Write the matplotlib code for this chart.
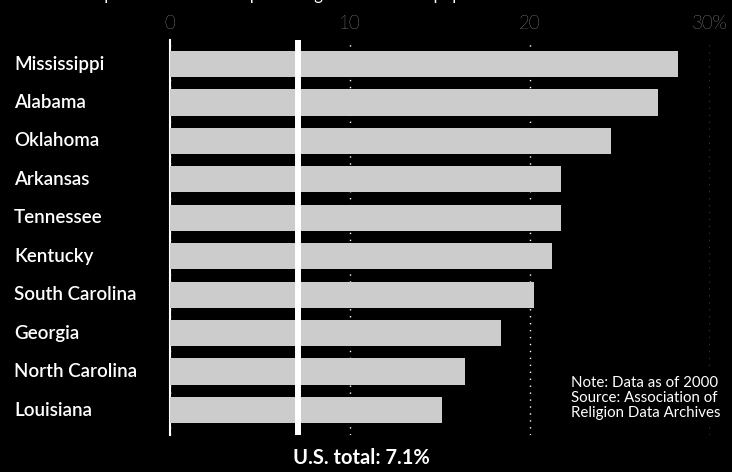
import matplotlib
matplotlib.use("Agg")
import matplotlib.pyplot as plt
from matplotlib.transforms import blended_transform_factory

BG = "#000000"
BAR = "#cccccc"
WHITE = "#ffffff"

states = ["Mississippi", "Alabama", "Oklahoma", "Arkansas", "Tennessee",
          "Kentucky", "South Carolina", "Georgia", "North Carolina", "Louisiana"]
share = [28.2, 27.1, 24.5, 21.7, 21.7, 21.2, 20.2, 18.4, 16.4, 15.1]
us_total = 7.1
xticks = [0, 10, 20, 30]
xtick_labels = ["0", "10", "20", "30%"]

plt.rcParams["font.family"] = ["Lato", "DejaVu Sans"]

fig = plt.figure(figsize=(7.32, 4.72), dpi=100, facecolor=BG)
ax = fig.add_axes([170 / 732, 1 - 435 / 472, 540 / 732, 395 / 472])
ax.set_facecolor(BG)

y = list(range(len(states)))
ax.barh(y, share, height=0.68, color=BAR, zorder=3)
ax.axvline(us_total, color=WHITE, linewidth=4.3, zorder=4)

ax.set_xlim(0, 30)
ax.set_ylim(9.65, -0.625)
ax.set_xticks(xticks)
ax.set_xticklabels(xtick_labels, color=WHITE, fontsize=13.5, fontweight="light")
ax.xaxis.tick_top()
ax.tick_params(axis="x", length=0, pad=5)
ax.set_yticks([])
for s in ["top", "right", "bottom"]:
    ax.spines[s].set_visible(False)
ax.spines["left"].set_color(WHITE)
ax.spines["left"].set_linewidth(1.5)
ax.xaxis.grid(True, color=WHITE, linestyle=(0, (1, 4)), linewidth=1, zorder=0)
ax.set_axisbelow(True)

# state labels: x in figure space, y in data space
label_tr = blended_transform_factory(fig.transFigure, ax.transData)
for yi, name in zip(y, states):
    ax.text(14 / 732, yi, name, transform=label_tr, color=WHITE,
            fontsize=13.5, fontweight="semibold", va="center", ha="left")

fig.text(571 / 732, 1 - 398 / 472, "Note: Data as of 2000\nSource: Association of\nReligion Data Archives",
         color=WHITE, fontsize=10.8, va="center", ha="left", linespacing=1.05,
         bbox=dict(facecolor=BG, edgecolor="none", pad=4), zorder=5)

fig.text(361 / 732, 1 - 458 / 472, "U.S. total: 7.1%", color=WHITE, fontsize=14.5,
         fontweight="bold", ha="center", va="center")

# title strip, clipped at the top edge as in the source
fig.text(14 / 732, 1 + 5 / 472, "Southern Baptist adherents as a percentage of total state population",
         color=WHITE, fontsize=12, ha="left", va="center")

fig.savefig("out.png", dpi=100, facecolor=BG)
